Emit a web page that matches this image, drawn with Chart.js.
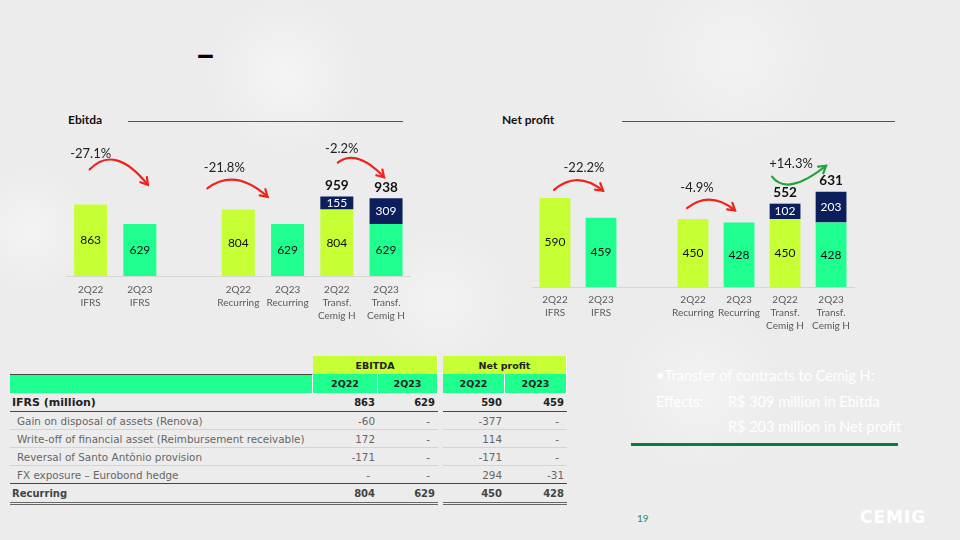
<!DOCTYPE html>
<html>
<head>
<meta charset="utf-8">
<script src="https://cdn.jsdelivr.net/npm/chart.js@4.4.1/dist/chart.umd.min.js"></script>
<style>
  body {
    margin: 0; width: 960px; height: 540px; overflow: hidden; position: relative;
    font-family: Lato, "Open Sans", sans-serif;
    background:
      radial-gradient(circle at 285px 75px, rgba(255,255,255,0.45) 0, rgba(255,255,255,0) 75px),
      radial-gradient(circle at 735px 55px, rgba(255,255,255,0.35) 0, rgba(255,255,255,0) 90px),
      radial-gradient(circle at 30px 230px, rgba(255,255,255,0.4) 0, rgba(255,255,255,0) 60px),
      radial-gradient(circle at 440px 300px, rgba(255,255,255,0.35) 0, rgba(255,255,255,0) 70px),
      radial-gradient(circle at 700px 390px, rgba(255,255,255,0.35) 0, rgba(255,255,255,0) 80px),
      #ececec;
  }
  .abs { position: absolute; }
  .title { font-weight: bold; font-size: 12px; color: #111; }
  .rule { height: 1px; background: #555; }
  canvas { position: absolute; }
  #tbl { position: absolute; left: 10px; top: 356px; border-collapse: separate; border-spacing: 0; table-layout: fixed; font-family: "DejaVu Sans", sans-serif; }
  #tbl td { padding: 0; white-space: nowrap; font-size: 10.4px; color: #666; overflow: hidden; }
  #tbl .h1 td, #tbl .h2 td { height: 18px; text-align: center; font-weight: bold; color: #222; font-size: 9.5px; }
  #tbl .lime { background: #c6ff33; border-right: 1px solid #fff; }
  #tbl .spring { background: #1fff8f; border-right: 1px solid #fff; }
  #tbl .band { background: #1fff8f; border-top: 1.5px solid #444; border-right: 1px solid #fff; }
  #tbl .num { text-align: right; padding-right: 3px; }
  #tbl .dash { text-align: right; padding-right: 8px; }
  #tbl .main td { height: 18px; font-weight: bold; color: #222; font-size: 10px; border-bottom: 1.5px solid #444; }
  #tbl .main td.lbl { padding-left: 2px; font-size: 11px; }
  #tbl .sub td { height: 17px; border-bottom: 1px solid #d4d4d4; }
  #tbl .sub td.lbl { padding-left: 7px; }
  #tbl .sub.last td { border-bottom: 1.5px solid #444; }
  #tbl .rec td { height: 18px; font-weight: bold; color: #444; font-size: 10px; border-bottom: 3px double #666; }
  #tbl .rec td.lbl { padding-left: 2px; }
  #tbl td.gap { border-bottom: none; background: none; }
  .note { color: #fff; font-size: 14.5px; }
</style>
</head>
<body>
<div class="abs" style="left:195px;top:35px;font-size:36px;font-weight:bold;color:#000;line-height:36px;">–</div>

<div class="abs title" style="left:68px;top:112px;">Ebitda</div>
<div class="abs rule" style="left:128px;top:121px;width:275px;"></div>
<div class="abs title" style="left:502px;top:112px;">Net profit</div>
<div class="abs rule" style="left:622px;top:121px;width:273px;"></div>

<canvas id="ebitdaChart" width="346" height="201" style="left:66px;top:130px;width:346px;height:201px;"></canvas>
<canvas id="profitChart" width="324" height="212" style="left:532px;top:130px;width:324px;height:212px;"></canvas>

<table id="tbl"></table>

<div class="abs note" style="left:656px;top:367px;">•Transfer of contracts to Cemig H:</div>
<div class="abs note" style="left:656px;top:393px;">Effects:</div>
<div class="abs note" style="left:728px;top:393px;">R$ 309 million in Ebitda</div>
<div class="abs note" style="left:728px;top:418px;">R$ 203 million in Net profit</div>
<div class="abs" style="left:631px;top:443px;width:267px;height:3px;background:#0a7d3e;"></div>

<div class="abs" style="left:637px;top:512px;font-size:10px;color:#2f8a60;">19</div>
<div class="abs" style="left:860px;top:507px;font-family:'DejaVu Sans';font-size:17px;font-weight:bold;color:#fff;letter-spacing:1px;">CEMIG</div>

<script>
// ---- chart data ----
const categories = [['2Q22', 'IFRS'], ['2Q23', 'IFRS'], '', ['2Q22', 'Recurring'], ['2Q23', 'Recurring'],
  ['2Q22', 'Transf.', 'Cemig H'], ['2Q23', 'Transf.', 'Cemig H']];

const ebitdaBase = [863, 629, null, 804, 629, 804, 629];
const ebitdaTransfer = [null, null, null, null, null, 155, 309];
const ebitdaTotals = [null, null, null, null, null, 959, 938];
const ebitdaChanges = ['-27.1%', '-21.8%', '-2.2%'];

const profitBase = [590, 459, null, 450, 428, 450, 428];
const profitTransfer = [null, null, null, null, null, 102, 203];
const profitTotals = [null, null, null, null, null, 552, 631];
const profitChanges = ['-22.2%', '-4.9%', '+14.3%'];

// ---- table data ----
const rowLabels = ['IFRS (million)', 'Gain on disposal of assets (Renova)',
  'Write-off of financial asset (Reimbursement receivable)', 'Reversal of Santo Antônio provision',
  'FX exposure – Eurobond hedge', 'Recurring'];
const ebitda2Q22 = ['863', '-60', '172', '-171', '-', '804'];
const ebitda2Q23 = ['629', '-', '-', '-', '-', '629'];
const profit2Q22 = ['590', '-377', '114', '-171', '294', '450'];
const profit2Q23 = ['459', '-', '-', '-', '-31', '428'];

const LIME = '#c6ff33', SPRING = '#1fff8f', NAVY = '#0c1f5c';
const RED = '#f0231c', GREEN = '#20a33a';
const baseColors = [LIME, SPRING, 'rgba(0,0,0,0)', LIME, SPRING, LIME, SPRING];

function drawArrow(ctx, s, c, e, color) {
  ctx.strokeStyle = color;
  ctx.lineWidth = 2.2;
  ctx.lineCap = 'round';
  ctx.beginPath();
  ctx.moveTo(s.x, s.y);
  ctx.quadraticCurveTo(c.x, c.y, e.x, e.y);
  ctx.stroke();
  const ang = Math.atan2(e.y - c.y, e.x - c.x);
  const h = 8;
  ctx.beginPath();
  ctx.moveTo(e.x - h * Math.cos(ang - 0.55), e.y - h * Math.sin(ang - 0.55));
  ctx.lineTo(e.x, e.y);
  ctx.lineTo(e.x - h * Math.cos(ang + 0.55), e.y - h * Math.sin(ang + 0.55));
  ctx.stroke();
}

const barLabels = {
  id: 'barLabels',
  afterDatasetsDraw(chart, args, opts) {
    const ctx = chart.ctx;
    const metas = chart.data.datasets.map((d, i) => chart.getDatasetMeta(i));
    const topOf = i => {
      let y = Infinity;
      chart.data.datasets.forEach((ds, di) => { if (ds.data[i] != null) y = Math.min(y, metas[di].data[i].y); });
      return y;
    };
    ctx.save();
    ctx.textAlign = 'center';
    ctx.textBaseline = 'middle';
    chart.data.datasets.forEach((ds, di) => {
      metas[di].data.forEach((bar, i) => {
        if (ds.data[i] == null) return;
        ctx.font = '12px Lato';
        ctx.fillStyle = di === 0 ? '#111' : '#fff';
        ctx.fillText(ds.data[i], bar.x, (bar.y + bar.base) / 2);
      });
    });
    opts.totals.forEach((t, i) => {
      if (t == null) return;
      ctx.font = 'bold 13.5px Lato';
      ctx.fillStyle = '#111';
      ctx.fillText(t, metas[0].data[i].x, topOf(i) - 11);
    });
    opts.arrows.forEach((a, k) => {
      const fx = metas[0].data[a.from].x, fy = topOf(a.from);
      const tx = metas[0].data[a.to].x, ty = topOf(a.to);
      drawArrow(ctx,
        { x: fx + a.s[0], y: fy + a.s[1] },
        { x: fx + a.c[0], y: fy + a.c[1] },
        { x: tx + a.e[0], y: ty + a.e[1] },
        opts.changes[k].startsWith('+') ? GREEN : RED);
      ctx.font = '13px Lato';
      ctx.fillStyle = '#222';
      ctx.fillText(opts.changes[k], fx + a.t[0], fy + a.t[1]);
    });
    ctx.restore();
  }
};

function makeChart(id, base, transfer, totals, changes, arrows, yMax, pad) {
  return new Chart(document.getElementById(id), {
    type: 'bar',
    data: {
      labels: categories,
      datasets: [
        { data: base, backgroundColor: baseColors, categoryPercentage: 1, barPercentage: 0.67 },
        { data: transfer, backgroundColor: NAVY, categoryPercentage: 1, barPercentage: 0.67 }
      ]
    },
    options: {
      responsive: false, animation: false, devicePixelRatio: 1,
      layout: { padding: 0 },
      plugins: {
        legend: { display: false }, tooltip: { enabled: false },
        barLabels: { totals: totals, changes: changes, arrows: arrows }
      },
      scales: {
        x: {
          stacked: true,
          grid: { display: false, drawTicks: false },
          border: { color: '#d6d6d6' },
          ticks: { color: '#5a5a5a', font: { family: 'Lato', size: 10, lineHeight: 1.3 }, padding: pad, maxRotation: 0, autoSkip: false },
          afterFit(s) { s.height = 55; }
        },
        y: { stacked: true, display: false, min: 0, max: yMax }
      }
    },
    plugins: [barLabels]
  });
}

makeChart('ebitdaChart', ebitdaBase, ebitdaTransfer, ebitdaTotals, ebitdaChanges, [
  { from: 0, to: 1, s: [-1, -35], c: [24, -61], e: [8, -39], t: [0, -51] },
  { from: 3, to: 4, s: [-31, -21], c: [-3, -42], e: [-20, -27], t: [-14, -42] },
  { from: 5, to: 6, s: [1, -34], c: [20, -48], e: [-2, -21], t: [5, -48] }
], 1763, 7);

makeChart('profitChart', profitBase, profitTransfer, profitTotals, profitChanges, [
  { from: 0, to: 1, s: [-1, -8], c: [22, -28], e: [2, -27], t: [29, -30] },
  { from: 3, to: 4, s: [-6, -11], c: [17, -29], e: [-4, -12], t: [4, -31] },
  { from: 5, to: 6, s: [-13, -27], c: [2, -7], e: [-5, -26], t: [6, -40] }
], 1040, 6);

// ---- table ----
const widths = [303, 65, 60, 5, 62, 62];
let html = '<colgroup>' + widths.map(w => '<col style="width:' + w + 'px">').join('') + '</colgroup>';
html += '<tr class="h1"><td></td><td class="lime" colspan="2">EBITDA</td><td class="gap"></td><td class="lime" colspan="2">Net profit</td></tr>';
html += '<tr class="h2"><td class="band"></td><td class="spring">2Q22</td><td class="spring">2Q23</td><td class="gap"></td><td class="spring">2Q22</td><td class="spring">2Q23</td></tr>';
const cell = v => '<td class="' + (v === '-' ? 'dash' : 'num') + '">' + v + '</td>';
rowLabels.forEach((lbl, i) => {
  let cls = 'sub';
  if (i === 0) cls = 'main';
  else if (i === rowLabels.length - 1) cls = 'rec';
  else if (i === rowLabels.length - 2) cls = 'sub last';
  html += '<tr class="' + cls + '"><td class="lbl">' + lbl + '</td>' + cell(ebitda2Q22[i]) + cell(ebitda2Q23[i]) +
    '<td class="gap"></td>' + cell(profit2Q22[i]) + cell(profit2Q23[i]) + '</tr>';
});
document.getElementById('tbl').innerHTML = html;
</script>
</body>
</html>
